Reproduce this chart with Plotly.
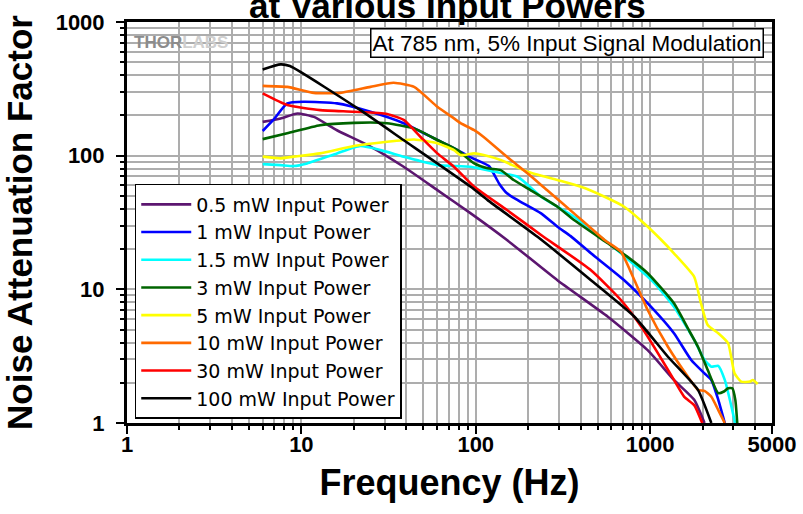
import numpy as np
import plotly.graph_objects as go

# ---- data ----
series_names = ["0.5 mW Input Power", "1 mW Input Power", "1.5 mW Input Power",
                "3 mW Input Power", "5 mW Input Power", "10 mW Input Power",
                "30 mW Input Power", "100 mW Input Power"]
series_colors = ["#5c1670", "#0000ff", "#00ffff", "#006400", "#ffff00",
                 "#ff6a00", "#ff0000", "#000000"]

f_05 = [6.0, 7.6, 9.5, 11.8, 16, 24.9, 38.6, 60.2, 93.6, 151, 294, 572, 968, 1370, 1790, 2050]
v_05 = [179, 190, 207, 195, 155, 117, 82.6, 55.3, 37, 23.4, 11.7, 6.24, 3.51, 2.10, 1.49, 1.0]

f_1 = [6.0, 6.9, 8.3, 10.3, 16, 24.9, 38.6, 60.2, 78.6, 93.6, 119, 136, 151, 174, 237,
       294, 350, 458, 710, 1010, 1370, 1720, 2050, 2244, 2460, 2680]
v_1 = [153, 185, 246, 253, 246, 213, 175, 131, 110, 97, 83.6, 62, 52.3, 46.5, 37,
       29.4, 25, 18.6, 11.7, 7.41, 4.69, 2.96, 2.35, 2.10, 1.49, 1.0]

f_15 = [6.0, 7.6, 9.0, 10.8, 16, 21.8, 28.5, 38.6, 60.2, 93.6, 128, 174, 237, 366, 548,
        680, 1060, 1370, 1790, 2050, 2244, 2460, 2680, 2930, 3070]
v_15 = [86.5, 85, 83.6, 87.5, 104, 118, 110, 98.3, 85, 82.6, 75.8, 69.5, 49.3, 34.9, 23.4,
        18.6, 11.1, 7.41, 4.18, 2.96, 2.64, 2.68, 2.10, 1.32, 1.0]

f_3 = [6.0, 8.3, 12.8, 20, 31, 44.3, 60.2, 78.6, 98, 117, 139, 165, 206, 294, 366, 572,
       742, 968, 1370, 1647, 1880, 2140, 2460, 2650, 2800, 2960, 3080, 3160]
v_3 = [133, 147, 169, 176, 175, 160, 131, 110, 87.5, 80.4, 78, 65.7, 55.3, 41.5, 33, 22.1,
       17.5, 13.2, 7.86, 5.1, 3.72, 2.49, 1.67, 1.72, 1.82, 1.82, 1.49, 1.0]

f_5 = [6.0, 7.6, 9.0, 12.8, 20, 31, 44.3, 60.2, 75, 81.9, 98, 111, 139, 198, 294, 401,
       548, 710, 925, 1160, 1370, 1790, 1950, 2140, 2460, 2800, 3050, 3330, 3730, 3880, 4140]
v_5 = [98.3, 95.5, 98.3, 104, 118, 127, 132, 124, 110, 101, 104, 101, 92.7, 75.8, 65.7, 58.5,
       49.3, 41.5, 31.1, 23.4, 18.6, 12.4, 8.0, 5.4, 4.69, 3.95, 2.35, 2.04, 2.04, 2.10, 1.96]

f_10 = [6.0, 8.3, 11.8, 16.7, 24.9, 33.8, 44.3, 60.2, 75, 81.9, 98, 111, 151, 198, 256,
        366, 548, 680, 813, 968, 1265, 1647, 1880, 2050, 2244, 2460, 2680]
v_10 = [333, 327, 295, 295, 327, 351, 327, 232, 190, 175, 155, 138, 98, 73.8, 55.3,
        37, 23.4, 19.1, 11.7, 7.0, 3.72, 2.22, 1.77, 1.74, 1.57, 1.25, 1.0]

f_30 = [6.0, 8.3, 12.8, 20, 31, 38.6, 48.3, 60.2, 75, 98, 151, 237, 458, 680, 890, 1110,
        1370, 1570, 1790, 1990]
v_30 = [292, 239, 219, 213, 205, 185, 138, 104, 82.6, 58.5, 39.2, 25.5, 13.9, 8.32, 5.25, 3.32,
        2.10, 1.57, 1.36, 1.0]

f_100 = [6.0, 7.6, 8.6, 21.8, 38.5, 93.6, 117, 226, 458, 813, 1265, 1880, 2244]
v_100 = [442, 482, 468, 219, 131, 58.5, 46.5, 24.7, 11.7, 6.24, 3.13, 1.77, 1.0]

x_tickvals = [1, 10, 100, 1000, 5000]
x_ticktext = ["1", "10", "100", "1000", "5000"]
y_tickvals = [1, 10, 100, 1000]
y_ticktext = ["1", "10", "100", "1000"]

freqs = [f_05, f_1, f_15, f_3, f_5, f_10, f_30, f_100]
vals = [v_05, v_1, v_15, v_3, v_5, v_10, v_30, v_100]

x_minor = [m * 10 ** d for d in range(0, 4) for m in range(2, 10) if m * 10 ** d < 5000]
y_minor = [m * 10 ** d for d in range(0, 3) for m in range(2, 10)]

FONT = "Liberation Sans, Arial, sans-serif"
GRID = "#adadad"

fig = go.Figure()
for name, color, fx, vy in zip(series_names, series_colors, freqs, vals):
    fig.add_trace(go.Scatter(x=fx, y=vy, mode="lines", name=name,
                             line=dict(color=color, width=2.6, shape="spline", smoothing=0.5)))

axis_common = dict(
    type="log", showline=True, linewidth=3, linecolor="black", mirror=True,
    showgrid=True, gridcolor=GRID, gridwidth=2, automargin=False,
    ticks="outside", ticklen=8, tickwidth=2, tickcolor="black",
    tickfont=dict(family=FONT, size=22, color="black", weight="bold"),
    zeroline=False,
)

fig.update_layout(
    width=803, height=514,
    margin=dict(l=127, r=31, t=22, b=91),
    paper_bgcolor="white", plot_bgcolor="white",
    xaxis=dict(axis_common, range=[0, np.log10(5000)], tickmode="array",
               tickvals=x_tickvals, ticktext=x_ticktext, ticklabelstandoff=-8,
               minor=dict(tickmode="array", tickvals=x_minor, ticks="outside", ticklen=4,
                          tickwidth=2, tickcolor="black", showgrid=True,
                          gridcolor=GRID, gridwidth=2),
               title=dict(text="Frequency (Hz)", standoff=14,
                          font=dict(family=FONT, size=36, color="black", weight="bold"))),
    xaxis2=dict(type="log", range=[0, np.log10(5000)], overlaying="x", anchor="y",
                side="top", showgrid=False, showline=False, zeroline=False,
                showticklabels=False, tickmode="array", tickvals=x_tickvals,
                ticks="inside", ticklen=7, tickwidth=2, tickcolor="black",
                automargin=False,
                minor=dict(tickmode="array", tickvals=x_minor, ticks="inside", ticklen=4,
                           tickwidth=2, tickcolor="black", showgrid=False)),
    yaxis=dict(axis_common, range=[0, 3], tickmode="array",
               tickvals=y_tickvals, ticktext=y_ticktext, ticklabelstandoff=7,
               minor=dict(tickmode="array", tickvals=y_minor, ticks="outside", ticklen=4,
                          tickwidth=2, tickcolor="black", showgrid=True,
                          gridcolor=GRID, gridwidth=2),
               title=dict(text="Noise Attenuation Factor", standoff=17,
                          font=dict(family=FONT, size=35, color="black", weight="bold"))),
    legend=dict(x=0.012, y=0.01, xanchor="left", yanchor="bottom",
                bgcolor="white", bordercolor="black", borderwidth=1.5,
                font=dict(family="DejaVu Sans, sans-serif", size=19, color="black"),
                itemwidth=50, tracegroupgap=0),
    showlegend=True,
)

# partially visible chart title at the very top
fig.add_annotation(xref="paper", yref="paper", x=(447.5 - 127) / 645, y=(423 - 5) / 401,
                   text="at Various Input Powers", showarrow=False,
                   xanchor="center", yanchor="middle",
                   font=dict(family=FONT, size=35, color="black", weight="bold"))

# white box behind the logo text
fig.add_shape(type="rect", xref="paper", yref="paper",
              x0=0, x1=(230 - 127) / 645, y0=(423 - 56) / 401, y1=1,
              fillcolor="white", line=dict(width=0), layer="between")

fig.add_annotation(xref="paper", yref="paper", x=(181 - 127) / 645, y=(423 - 43) / 401,
                   text="<b><span style='color:#8c8c8c'>THOR</span><span style='color:#cfcfcf'>LABS</span></b>",
                   showarrow=False, xanchor="center", yanchor="middle",
                   font=dict(family=FONT, size=17))

fig.add_annotation(xref="paper", yref="paper", x=(764 - 127) / 645, y=(423 - 28) / 401,
                   xanchor="right", yanchor="top", showarrow=False,
                   text="At 785 nm, 5% Input Signal Modulation",
                   font=dict(family=FONT, size=22.5, color="black"),
                   bgcolor="white", bordercolor="black", borderwidth=1.5, borderpad=1)

fig.write_html("out.html", config={"displayModeBar": False},
               post_script="document.body.style.margin='0';")
